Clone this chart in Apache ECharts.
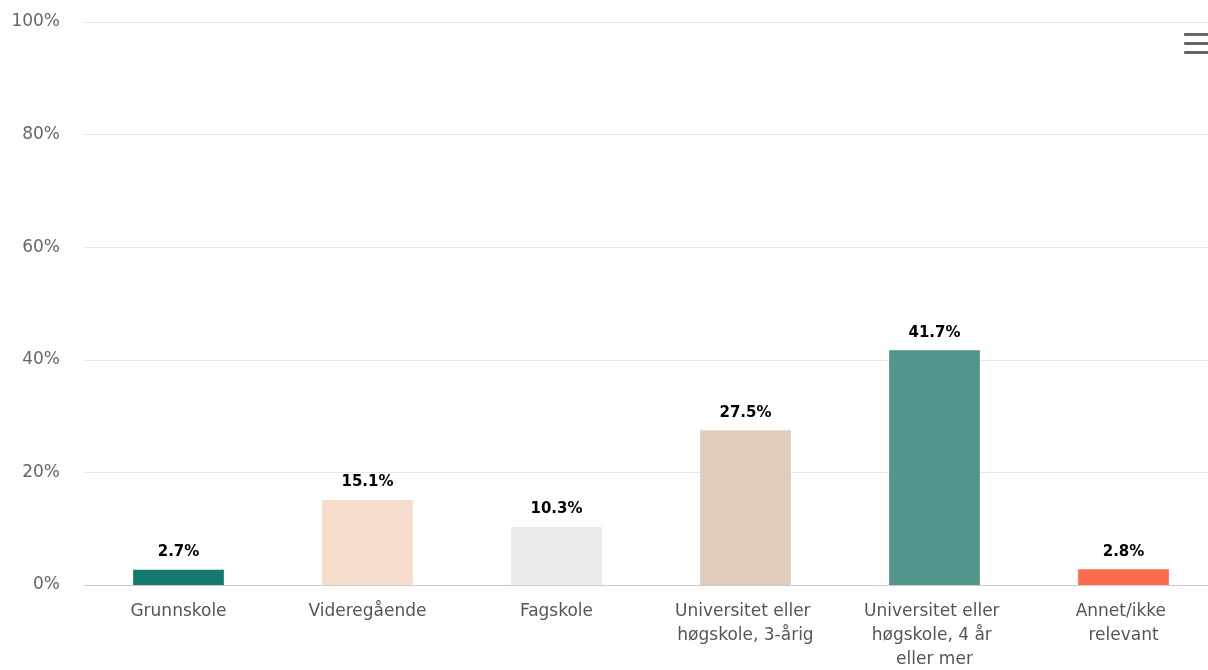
<!DOCTYPE html>
<html>
<head>
<meta charset="utf-8">
<script src="https://cdn.jsdelivr.net/npm/echarts@6/dist/echarts.min.js"></script>
<style>
  html, body { margin: 0; padding: 0; background: #fff; overflow: hidden; }
  #chart { width: 1208px; height: 670px; }
</style>
</head>
<body>
<div id="chart"></div>
<script>
var categories = [
  "Grunnskole",
  "Videregående",
  "Fagskole",
  "Universitet eller høgskole, 3-årig",
  "Universitet eller høgskole, 4 år eller mer",
  "Annet/ikke relevant"
];
var values = [2.7, 15.1, 10.3, 27.5, 41.7, 2.8];
var barColors = ["#13796f", "#f6dccb", "#ebebeb", "#e0ccbc", "#52958a", "#fd6b4f"];
var yTicks = [0, 20, 40, 60, 80, 100];

var FONT = "DejaVu Sans, Verdana, sans-serif";

var chart = echarts.init(document.getElementById("chart"));

var option = {
  backgroundColor: "#fff",
  animation: false,
  // plot is a bit wider than the picture, it gets cut on the right like the reference
  grid: {
    left: 84, width: 1134, top: 22, bottom: 85,
    containLabel: false,
    outerBoundsMode: "none"
  },
  xAxis: {
    type: "category",
    data: categories,
    axisTick: { show: false },
    axisLine: { lineStyle: { color: "#cccccc", width: 1 } },
    axisLabel: {
      color: "#555",
      fontFamily: FONT,
      fontSize: 17,
      margin: 15,
      lineHeight: 24,
      width: 152,
      overflow: "break",
      interval: 0
    }
  },
  yAxis: {
    type: "value",
    min: yTicks[0],
    max: yTicks[yTicks.length - 1],
    interval: 20,
    axisLine: { show: false },
    axisTick: { show: false },
    splitLine: { lineStyle: { color: "#e6e6e6", width: 1 } },
    axisLabel: {
      color: "#666",
      fontFamily: FONT,
      fontSize: 17,
      margin: 24,
      formatter: "{value}%"
    }
  },
  series: [
    {
      type: "bar",
      barWidth: "48%",
      data: values.map(function (v, i) {
        return { value: v, itemStyle: { color: barColors[i] } };
      }),
      label: {
        show: true,
        position: "top",
        distance: 10,
        color: "#000",
        fontFamily: FONT,
        fontSize: 15,
        fontWeight: "bold",
        textBorderColor: "#fff",
        textBorderWidth: 1,
        formatter: function (p) { return p.value.toFixed(1) + "%"; }
      }
    }
  ],
  graphic: [
    { type: "rect", left: 1184, top: 33, shape: { width: 26, height: 3, r: 1 }, style: { fill: "#666" } },
    { type: "rect", left: 1184, top: 42, shape: { width: 26, height: 3, r: 1 }, style: { fill: "#666" } },
    { type: "rect", left: 1184, top: 51, shape: { width: 26, height: 3, r: 1 }, style: { fill: "#666" } }
  ]
};

chart.setOption(option);
</script>
</body>
</html>
